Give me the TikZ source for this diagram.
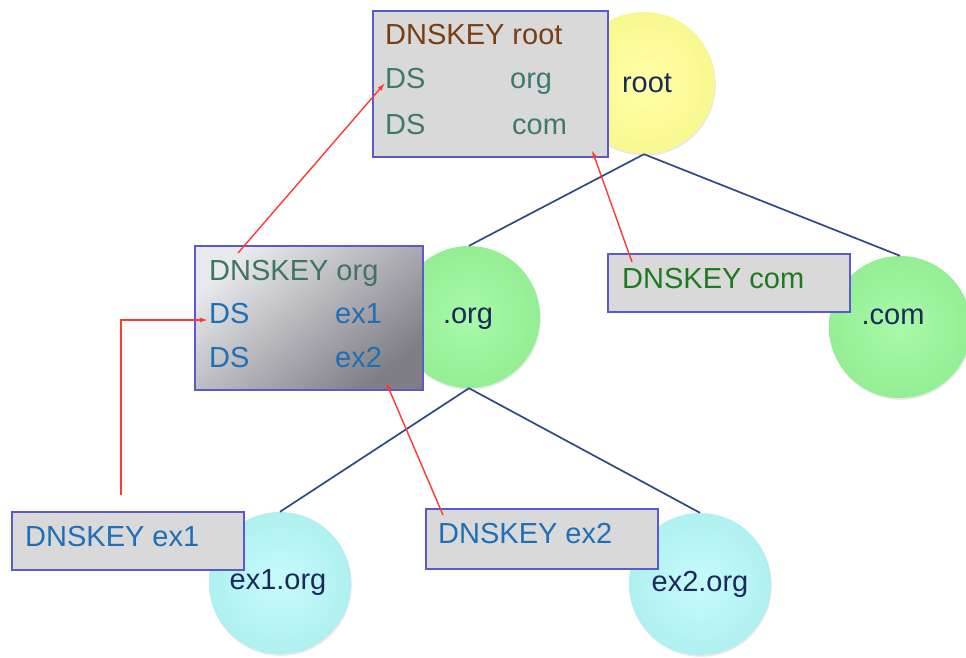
\documentclass[tikz,border=0pt]{standalone}
\usepackage{fontspec}
\setmainfont{Liberation Sans}
\usetikzlibrary{arrows.meta,shadows}
\definecolor{boxgray}{HTML}{D9D9D9}
\definecolor{boxline}{HTML}{5A5AC8}
\definecolor{orglight}{HTML}{E8E9ED}
\definecolor{orgmid}{HTML}{C2C3C7}
\definecolor{orgdark}{HTML}{7E7E84}
\definecolor{treeline}{HTML}{2E4A86}
\definecolor{arrowred}{HTML}{FF3838}
\definecolor{cbrown}{HTML}{7A3E12}
\definecolor{cteal}{HTML}{3F7A70}
\definecolor{cteal2}{HTML}{3F7466}
\definecolor{cblue}{HTML}{1F6FB8}
\definecolor{cgreen}{HTML}{1F7A1F}
\definecolor{cnavy}{HTML}{1B2A5A}
\definecolor{yelin}{HTML}{FFFFA8}
\definecolor{yelout}{HTML}{F8F890}
\definecolor{grnin}{HTML}{A8FAA8}
\definecolor{grnout}{HTML}{94EE94}
\definecolor{cyain}{HTML}{C6FBFB}
\definecolor{cyaout}{HTML}{B0F0F0}
\begin{document}
\begin{tikzpicture}[x=1pt,y=-1pt,
  keybox/.style={draw=boxline, line width=1.6pt, fill=boxgray, anchor=north west, inner sep=0pt},
  zone/.style={circle, minimum size=142pt, inner sep=0pt,
    drop shadow={shadow xshift=0.8pt, shadow yshift=-1.8pt, opacity=0.18}},
  txt/.style={inner sep=0pt, anchor=base west, font=\fontsize{29}{30}\selectfont},
  lbl/.style={inner sep=0pt, anchor=base, text=cnavy, font=\fontsize{29}{30}\selectfont},
  tree/.style={draw=treeline, line width=1.7pt},
  redarrow/.style={draw=arrowred, line width=1.4pt, -{Latex[length=8pt,width=5pt]}}
]
\useasboundingbox[fill=white] (0,0) rectangle (966,658);

% circles
\node[zone, inner color=yelin, outer color=yelout] (croot) at (644,83) {};
\node[zone, inner color=grnin, outer color=grnout] (corg) at (469,317) {};
\node[zone, inner color=grnin, outer color=grnout] (ccom) at (900,327) {};
\node[zone, inner color=cyain, outer color=cyaout] (cex1) at (280,583) {};
\node[zone, inner color=cyain, outer color=cyaout] (cex2) at (700,584) {};

% tree lines
\draw[tree] (croot.south) -- (corg.north);
\draw[tree] (croot.south) -- (ccom.north);
\draw[tree] (corg.south) -- (cex1.north);
\draw[tree] (corg.south) -- (cex2.north);

% circle labels
\node[lbl] (lroot) at (647,93) {root};
\node[lbl] (lorg) at (468,323) {.org};
\node[lbl] (lcom) at (893,324) {.com};
\node[lbl] (lex1) at (278,589) {ex1.org};
\node[lbl] (lex2) at (700,591) {ex2.org};

% boxes
\node[keybox, minimum width=235pt, minimum height=146pt] (rootbox) at (372,10) {};
\node[keybox, fill=none, top color=orglight, middle color=orgmid, bottom color=orgdark, shading angle=40,
      minimum width=228pt, minimum height=144pt] (orgbox) at (194,245) {};
\node[keybox, minimum width=242pt, minimum height=58pt] (combox) at (607,253) {};
\node[keybox, minimum width=232pt, minimum height=58pt] (ex1box) at (11,511) {};
\node[keybox, minimum width=232pt, minimum height=60pt] (ex2box) at (425,508) {};

% box texts
\node[txt, text=cbrown] (krootk) at (385,45) {DNSKEY root};
\node[txt, text=cteal] (dsorg) at (385,89) {DS};
\node[txt, text=cteal] (dsorgn) at (510,89) {org};
\node[txt, text=cteal] (dscom) at (385,135) {DS};
\node[txt, text=cteal] (dscomn) at (512,135) {com};

\node[txt, text=cteal2] (korg) at (209,280) {DNSKEY org};
\node[txt, text=cblue] (dsex1) at (209,323) {DS};
\node[txt, text=cblue] (dsex1n) at (335,323) {ex1};
\node[txt, text=cblue] (dsex2) at (209,367) {DS};
\node[txt, text=cblue] (dsex2n) at (335,367) {ex2};

\node[txt, text=cgreen] (kcom) at (622,288) {DNSKEY com};
\node[txt, text=cblue] (kex1) at (25,546) {DNSKEY ex1};
\node[txt, text=cblue] (kex2) at (438,543) {DNSKEY ex2};

% red arrows
\coordinate (s1) at (238,253); \coordinate (t1) at (385,83);
\coordinate (s2) at (632,262); \coordinate (t2) at (592,150);
\coordinate (s3) at (121,495); \coordinate (t3) at (208,320);
\coordinate (s4) at (443,515); \coordinate (t4) at (386,382);
\draw[redarrow] (s1) -- (t1);
\draw[redarrow] (s2) -- (t2);
\draw[redarrow] (s3) |- (t3);
\draw[redarrow] (s4) -- (t4);
\end{tikzpicture}
\end{document}
